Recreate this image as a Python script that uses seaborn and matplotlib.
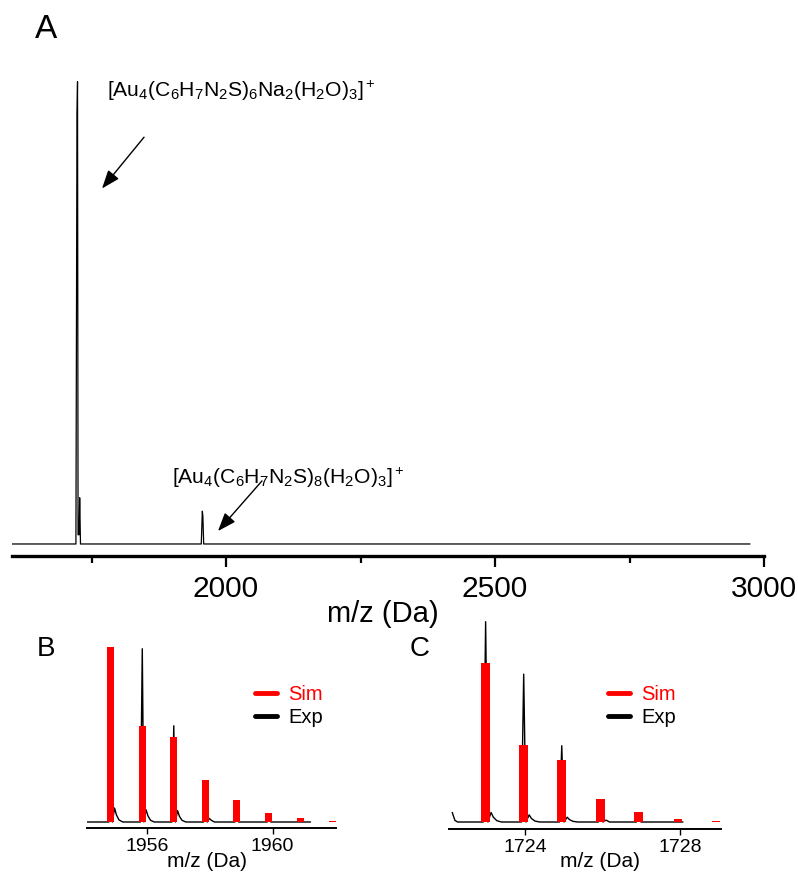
import matplotlib
matplotlib.use("Agg")
import matplotlib.pyplot as plt
import seaborn as sns
from matplotlib.lines import Line2D

# ---------------- data ----------------
# Panel A: full spectrum (m/z, relative intensity)
a_mz = [1602, 1721, 1723, 1724, 1725, 1727, 1728, 1729.5, 1954, 1956, 1957, 1958.5, 2974]
a_int = [0, 0, 0.93, 1.0, 0.02, 0.02, 0.10, 0, 0, 0.071, 0.06, 0, 0]
a_major_ticks = [2000, 2500, 3000]
a_minor_ticks = [1750, 2250, 2750]
a_label_1 = r"$\mathregular{[Au_4(C_6H_7N_2S)_6Na_2(H_2O)_3]^+}$"
a_label_2 = r"$\mathregular{[Au_4(C_6H_7N_2S)_8(H_2O)_3]^+}$"

# Panel B: isotope pattern around 1956
b_sim_mz = [1954.86, 1955.86, 1956.86, 1957.87, 1958.86, 1959.88, 1960.88, 1961.89]
b_sim_int = [1.0, 0.55, 0.486, 0.24, 0.126, 0.05, 0.023, 0.008]
b_exp_mz = [1954.10, 1954.80, 1954.86, 1954.91, 1954.98, 1955.04, 1955.12, 1955.24,
            1955.80, 1955.86, 1955.91, 1955.98, 1956.04, 1956.12, 1956.24,
            1956.80, 1956.86, 1956.91, 1956.98, 1957.04, 1957.12, 1957.24,
            1957.81, 1957.87, 1957.92, 1957.99, 1958.05, 1958.15,
            1958.80, 1958.86, 1958.92, 1959.82, 1959.88, 1959.94, 1961.20]
b_exp_int = [0, 0, 0.95, 0, 0.08, 0.04, 0.012, 0,
             0, 0.99, 0, 0.07, 0.035, 0.01, 0,
             0, 0.55, 0, 0.065, 0.032, 0.01, 0,
             0, 0.20, 0, 0.02, 0.01, 0,
             0, 0.09, 0, 0, 0.03, 0, 0]
b_ticks = [1956, 1960]

# Panel C: isotope pattern around 1724
c_sim_mz = [1722.99, 1723.97, 1724.95, 1725.95, 1726.93, 1727.94, 1728.92]
c_sim_int = [1.0, 0.484, 0.39, 0.147, 0.061, 0.017, 0.004]
c_exp_mz = [1722.13, 1722.20, 1722.27,
            1722.93, 1722.99, 1723.05, 1723.13, 1723.19, 1723.28, 1723.40,
            1723.91, 1723.97, 1724.03, 1724.11, 1724.17, 1724.26, 1724.38,
            1724.89, 1724.95, 1725.01, 1725.09, 1725.15, 1725.24, 1725.36,
            1725.89, 1725.95, 1726.01, 1726.09, 1726.18,
            1726.87, 1726.93, 1726.99, 1728.07]
c_exp_int = [0.06, 0.01, 0,
             0, 1.26, 0, 0.06, 0.03, 0.008, 0,
             0, 0.93, 0, 0.045, 0.022, 0.006, 0,
             0, 0.48, 0, 0.03, 0.015, 0.004, 0,
             0, 0.12, 0, 0.012, 0,
             0, 0.05, 0, 0]
c_ticks = [1724, 1728]

legend_labels = ["Sim", "Exp"]
sim_color = "#ff0000"
exp_color = "#000000"

# ---------------- style ----------------
sns.set_theme(style="white")
plt.rcParams["font.family"] = ["Liberation Sans", "DejaVu Sans"]
plt.rcParams["mathtext.fontset"] = "custom"
plt.rcParams["mathtext.rm"] = "Liberation Sans"
plt.rcParams["mathtext.it"] = "Liberation Sans:italic"
plt.rcParams["mathtext.bf"] = "Liberation Sans:bold"
plt.rcParams["text.color"] = "black"
plt.rcParams["axes.labelcolor"] = "black"
plt.rcParams["xtick.color"] = "black"
plt.rcParams["xtick.labelcolor"] = "black"

W, H = 798, 875
fig = plt.figure(figsize=(W / 100, H / 100), dpi=100)


def px_axes(left, top, right, bottom):
    return fig.add_axes([left / W, 1 - bottom / H, (right - left) / W, (bottom - top) / H])


def strip(ax, spine_w):
    for s in ["left", "right", "top"]:
        ax.spines[s].set_visible(False)
    ax.spines["bottom"].set_linewidth(spine_w)
    ax.spines["bottom"].set_color("black")
    ax.set_yticks([])
    ax.set_ylabel("")
    ax.set_xlabel("")
    ax.set_facecolor("none")


# ---------------- Panel A ----------------
axA = px_axes(12, 60, 764, 556)
sns.lineplot(x=a_mz, y=a_int, ax=axA, color="black", lw=0.9, estimator=None, sort=False)
axA.set_xlim(1602.2, 3000)
axA.set_ylim(-0.026, 1.047)
strip(axA, 2.4)
axA.set_xticks(a_major_ticks)
axA.set_xticks(a_minor_ticks, minor=True)
axA.tick_params(axis="x", which="major", direction="out", length=8, width=1.6,
                labelsize=21.5, pad=6, bottom=True, colors="black")
axA.tick_params(axis="x", which="minor", direction="out", length=5, width=1.6, bottom=True)

axA.text(1778.8, 0.966, a_label_1, fontsize=15.2, ha="left", va="baseline", color="black")
axA.text(1899.6, 0.130, a_label_2, fontsize=15.2, ha="left", va="baseline", color="black")
arrow_kw = dict(arrowstyle="-|>,head_length=0.8,head_width=0.3", color="black",
                lw=1.0, mutation_scale=14, shrinkA=0, shrinkB=0)
axA.annotate("", xy=(1769.5, 0.769), xytext=(1847.6, 0.880), arrowprops=arrow_kw)
axA.annotate("", xy=(1985.1, 0.028), xytext=(2066.9, 0.1365), arrowprops=arrow_kw)

fig.text(46 / W, 1 - 38 / H, "A", fontsize=24, ha="center", va="baseline")
fig.text(383 / W, 1 - 622.5 / H, "m/z (Da)", fontsize=21, ha="center", va="baseline")


# ---------------- Panels B & C ----------------
def iso_panel(ax, sim_mz, sim_int, exp_mz, exp_int, xlim, ylim, ticks):
    sns.lineplot(x=exp_mz, y=exp_int, ax=ax, color=exp_color, lw=1.0,
                 estimator=None, sort=False, zorder=2)
    ax.bar(sim_mz, sim_int, width=0.22, color=sim_color, linewidth=0, zorder=3)
    ax.set_xlim(*xlim)
    ax.set_ylim(*ylim)
    strip(ax, 1.4)
    ax.set_xticks(ticks)
    ax.tick_params(axis="x", which="major", direction="out", length=4, width=1.0,
                   labelsize=14, pad=3.5, bottom=True, colors="black")
    handles = [Line2D([], [], color=sim_color, lw=3.5), Line2D([], [], color=exp_color, lw=3.5)]
    return handles


axB = px_axes(87, 640, 336, 828)
hB = iso_panel(axB, b_sim_mz, b_sim_int, b_exp_mz, b_exp_int,
               (1954.105, 1962.01), (-0.0343, 1.04), b_ticks)
legB = axB.legend(hB, legend_labels, loc="upper left",
                  bbox_to_anchor=(255 / W, 1 - 685 / H), bbox_transform=fig.transFigure,
                  frameon=False, fontsize=14.5, handlelength=1.1, handletextpad=0.55,
                  labelspacing=0.2, borderpad=0, borderaxespad=0)
legB.get_texts()[0].set_color(sim_color)
legB.get_texts()[1].set_color("black")

axC = px_axes(449, 615, 721, 829)
hC = iso_panel(axC, c_sim_mz, c_sim_int, c_exp_mz, c_exp_int,
               (1722.047, 1729.05), (-0.044, 1.302), c_ticks)
legC = axC.legend(hC, legend_labels, loc="upper left",
                  bbox_to_anchor=(608 / W, 1 - 685 / H), bbox_transform=fig.transFigure,
                  frameon=False, fontsize=14.5, handlelength=1.1, handletextpad=0.55,
                  labelspacing=0.2, borderpad=0, borderaxespad=0)
legC.get_texts()[0].set_color(sim_color)
legC.get_texts()[1].set_color("black")

fig.text(46 / W, 1 - 656 / H, "B", fontsize=20, ha="center", va="baseline")
fig.text(420 / W, 1 - 656 / H, "C", fontsize=20, ha="center", va="baseline")
fig.text(207 / W, 1 - 867 / H, "m/z (Da)", fontsize=15, ha="center", va="baseline")
fig.text(600 / W, 1 - 867 / H, "m/z (Da)", fontsize=15, ha="center", va="baseline")

fig.savefig("out.png", dpi=100)
